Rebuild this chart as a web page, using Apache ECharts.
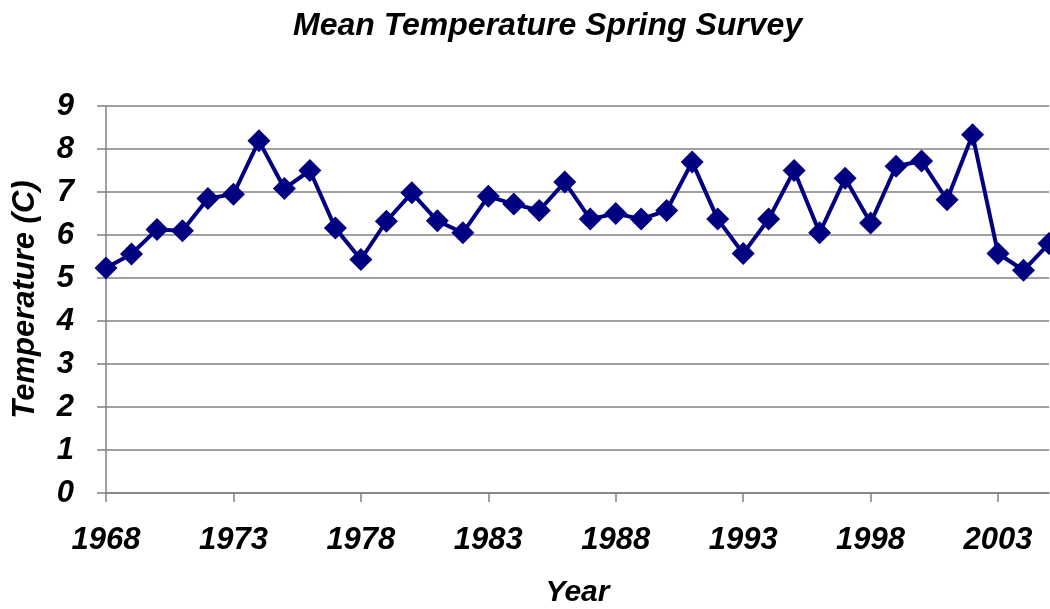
<!DOCTYPE html>
<html>
<head>
<meta charset="utf-8">
<script src="https://cdn.jsdelivr.net/npm/echarts@6/dist/echarts.min.js"></script>
<style>
  html, body { margin: 0; padding: 0; background: #fff; }
  #chart { width: 1050px; height: 609px; }
</style>
</head>
<body>
<div id="chart"></div>
<script>
// years on the x axis
const years = [];
for (let y = 1968; y <= 2005; y++) years.push(String(y));

// mean spring temperature (C)
const meanTemp = [
  5.23, 5.56, 6.13, 6.10, 6.85, 6.95, 8.19, 7.08, 7.50, 6.16,
  5.43, 6.32, 6.98, 6.33, 6.05, 6.90, 6.72, 6.57, 7.23, 6.37,
  6.50, 6.37, 6.57, 7.70, 6.37, 5.57, 6.37, 7.50, 6.05, 7.32,
  6.28, 7.60, 7.72, 6.82, 8.33, 5.57, 5.18, 5.80
];

const font = 'Liberation Sans, Arial, sans-serif';
const axisFont = { fontFamily: font, fontSize: 31, fontWeight: 'bold', fontStyle: 'italic', color: '#000' };

const chart = echarts.init(document.getElementById('chart'));
chart.setOption({
  animation: false,
  title: {
    text: 'Mean Temperature Spring Survey',
    left: 288,
    top: 5,
    textStyle: { fontFamily: font, fontSize: 32, fontWeight: 'bold', fontStyle: 'italic', color: '#000' }
  },
  grid: { left: 106, right: 1, top: 106, bottom: 116, outerBoundsMode: 'none' },
  xAxis: {
    type: 'category',
    data: years,
    boundaryGap: false,
    name: 'Year',
    nameLocation: 'middle',
    nameGap: 85,
    nameTextStyle: Object.assign({}, axisFont, { fontSize: 30 }),
    axisLine: { lineStyle: { color: '#808080', width: 1.5 } },
    axisTick: { interval: 4, length: 9, lineStyle: { color: '#808080', width: 1.5 } },
    axisLabel: Object.assign({ interval: 4, margin: 32 }, axisFont)
  },
  yAxis: {
    type: 'value',
    min: 0,
    max: 9,
    interval: 1,
    name: 'Temperature (C)',
    nameLocation: 'middle',
    nameGap: 65,
    nameTextStyle: axisFont,
    axisLine: { show: true, lineStyle: { color: '#808080', width: 1.5 } },
    axisTick: { show: true, length: 9, lineStyle: { color: '#808080', width: 1.5 } },
    splitLine: { lineStyle: { color: '#808080', width: 1.5 } },
    axisLabel: Object.assign({ margin: 32 }, axisFont)
  },
  series: [{
    type: 'line',
    data: meanTemp,
    symbol: 'diamond',
    symbolSize: 23,
    showAllSymbol: true,
    lineStyle: { color: '#000080', width: 4 },
    itemStyle: { color: '#000080' }
  }]
});
</script>
</body>
</html>
